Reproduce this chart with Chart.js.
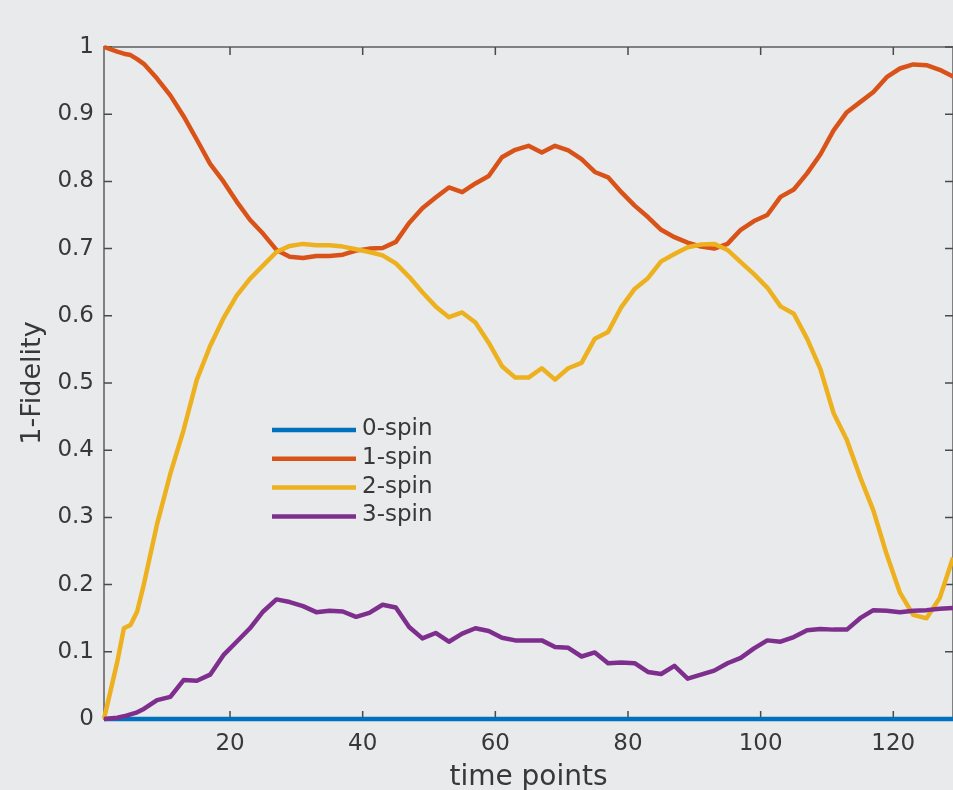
<!DOCTYPE html>
<html>
<head>
<meta charset="utf-8">
<script src="https://cdn.jsdelivr.net/npm/chart.js@4.4.0/dist/chart.umd.min.js"></script>
<style>
  html, body { margin: 0; padding: 0; background: #e9eaec; overflow: hidden; }
  #wrap { width: 953px; height: 790px; }
</style>
</head>
<body>
<div id="wrap"><canvas id="fidelity"></canvas></div>
<script>
// time axis samples
const timePoints = [1, 3, 4, 5, 6, 7, 9, 11, 13, 15, 17, 19, 21, 23, 25, 27, 29, 31, 33, 35, 37, 39,
  41, 43, 45, 47, 49, 51, 53, 55, 57, 59, 61, 63, 65, 67, 69, 71, 73, 75, 77, 79,
  81, 83, 85, 87, 89, 91, 93, 95, 97, 99, 101, 103, 105, 107, 109, 111, 113, 115, 117, 119,
  121, 123, 125, 127, 129];

// 1-Fidelity per spin count
const spin0 = [0, 0, 0, 0, 0, 0, 0, 0, 0, 0, 0, 0, 0, 0, 0, 0, 0, 0, 0, 0,
  0, 0, 0, 0, 0, 0, 0, 0, 0, 0, 0, 0, 0, 0, 0, 0, 0, 0, 0, 0,
  0, 0, 0, 0, 0, 0, 0, 0, 0, 0, 0, 0, 0, 0, 0, 0, 0, 0, 0, 0,
  0, 0, 0, 0, 0, 0, 0];
const spin1 = [1.000, 0.993, 0.990, 0.988, 0.982, 0.975, 0.953, 0.928, 0.897, 0.862, 0.826, 0.800,
  0.770, 0.743, 0.722, 0.698, 0.688, 0.686, 0.689, 0.689, 0.691, 0.697,
  0.700, 0.701, 0.710, 0.738, 0.760, 0.776, 0.791, 0.784, 0.797, 0.808,
  0.836, 0.847, 0.853, 0.843, 0.853, 0.846, 0.833, 0.814, 0.806, 0.784,
  0.764, 0.747, 0.728, 0.717, 0.709, 0.703, 0.700, 0.707, 0.728, 0.741,
  0.750, 0.777, 0.788, 0.812, 0.840, 0.876, 0.903, 0.918, 0.933, 0.955,
  0.968, 0.974, 0.973, 0.966, 0.956];
const spin2 = [0.000, 0.085, 0.135, 0.140, 0.160, 0.200, 0.290, 0.365, 0.430, 0.505, 0.555, 0.596,
  0.630, 0.655, 0.675, 0.695, 0.704, 0.707, 0.705, 0.705, 0.703, 0.699,
  0.695, 0.690, 0.678, 0.658, 0.635, 0.614, 0.598, 0.605, 0.590, 0.560,
  0.525, 0.508, 0.508, 0.522, 0.505, 0.522, 0.530, 0.566, 0.576, 0.613,
  0.640, 0.656, 0.681, 0.692, 0.702, 0.706, 0.707, 0.698, 0.680, 0.662,
  0.642, 0.614, 0.603, 0.566, 0.521, 0.455, 0.415, 0.360, 0.310, 0.245,
  0.188, 0.155, 0.150, 0.180, 0.240];
const spin3 = [0.000, 0.002, 0.004, 0.007, 0.010, 0.015, 0.028, 0.033, 0.058, 0.057, 0.066, 0.095,
  0.115, 0.135, 0.160, 0.178, 0.174, 0.168, 0.159, 0.161, 0.160, 0.152,
  0.158, 0.170, 0.166, 0.137, 0.120, 0.128, 0.115, 0.127, 0.135, 0.131,
  0.121, 0.117, 0.117, 0.117, 0.107, 0.106, 0.093, 0.099, 0.083, 0.084,
  0.083, 0.070, 0.067, 0.079, 0.060, 0.066, 0.072, 0.083, 0.091, 0.105,
  0.117, 0.115, 0.122, 0.132, 0.134, 0.133, 0.133, 0.150, 0.162, 0.161,
  0.159, 0.161, 0.162, 0.164, 0.165];

const seriesNames = ['0-spin', '1-spin', '2-spin', '3-spin'];
const seriesColors = ['#0072bd', '#d95319', '#edb120', '#7e2f8e'];
const xTicks = [20, 40, 60, 80, 100, 120];
const yTicks = [0, 0.1, 0.2, 0.3, 0.4, 0.5, 0.6, 0.7, 0.8, 0.9, 1];

const FONT = "'DejaVu Sans', sans-serif";
const TEXT = '#383838';

const toPoints = vals => timePoints.map((t, i) => ({ x: t, y: vals[i] }));

// box around the axes with inward ticks on all four sides
const axesBox = {
  id: 'axesBox',
  beforeDatasetsDraw(chart) {
    const { ctx, chartArea: a, scales: { x, y } } = chart;
    ctx.save();
    ctx.strokeStyle = '#808080';
    ctx.lineWidth = 2;
    ctx.strokeRect(a.left, a.top, a.right - a.left, a.bottom - a.top);
    ctx.strokeStyle = '#4a4a4a';
    ctx.lineWidth = 1.5;
    ctx.beginPath();
    x.ticks.forEach(t => {
      const px = x.getPixelForValue(t.value);
      ctx.moveTo(px, a.bottom); ctx.lineTo(px, a.bottom - 8);
      ctx.moveTo(px, a.top); ctx.lineTo(px, a.top + 8);
    });
    y.ticks.forEach(t => {
      const py = y.getPixelForValue(t.value);
      ctx.moveTo(a.left, py); ctx.lineTo(a.left + 8, py);
      ctx.moveTo(a.right, py); ctx.lineTo(a.right - 8, py);
    });
    ctx.stroke();
    ctx.restore();
  }
};

// legend without a frame, placed inside the plot
const lineLegend = {
  id: 'lineLegend',
  afterDatasetsDraw(chart) {
    const { ctx } = chart;
    const x0 = 272, x1 = 356, y0 = 430, step = 28.8;
    ctx.save();
    ctx.font = '23px ' + FONT;
    ctx.textBaseline = 'middle';
    ctx.textAlign = 'left';
    chart.data.datasets.forEach((ds, i) => {
      const yy = y0 + i * step;
      ctx.strokeStyle = ds.borderColor;
      ctx.lineWidth = 4.5;
      ctx.beginPath();
      ctx.moveTo(x0, yy);
      ctx.lineTo(x1, yy);
      ctx.stroke();
      ctx.fillStyle = TEXT;
      ctx.fillText(ds.label, x1 + 6, yy - 1);
    });
    ctx.restore();
  }
};

const allSeries = [spin0, spin1, spin2, spin3];

new Chart(document.getElementById('fidelity'), {
  type: 'line',
  data: {
    datasets: allSeries.map((vals, i) => ({
      label: seriesNames[i],
      data: toPoints(vals),
      borderColor: seriesColors[i],
      backgroundColor: seriesColors[i],
      borderWidth: 4.5,
      pointRadius: 0,
      tension: 0,
      borderJoinStyle: 'round',
      clip: 6,
      order: allSeries.length - i
    }))
  },
  plugins: [axesBox, lineLegend],
  options: {
    responsive: true,
    maintainAspectRatio: false,
    animation: false,
    layout: { padding: { top: 47, right: 0, left: 0, bottom: 0 } },
    plugins: {
      legend: { display: false },
      tooltip: { enabled: false }
    },
    scales: {
      x: {
        type: 'linear',
        min: 1,
        max: 129,
        afterBuildTicks: axis => { axis.ticks = xTicks.map(v => ({ value: v })); },
        afterFit: axis => { axis.height = 71; },
        grid: { display: false, drawTicks: false },
        border: { display: false },
        ticks: { color: TEXT, font: { family: FONT, size: 23 }, padding: 11, maxRotation: 0 },
        title: {
          display: true,
          text: 'time points',
          color: TEXT,
          font: { family: FONT, size: 28 },
          padding: { top: 0, bottom: -5 }
        }
      },
      y: {
        min: 0,
        max: 1,
        afterBuildTicks: axis => { axis.ticks = yTicks.map(v => ({ value: v })); },
        afterFit: axis => { axis.width = 104; },
        grid: { display: false, drawTicks: false },
        border: { display: false },
        ticks: {
          color: TEXT,
          font: { family: FONT, size: 23 },
          padding: 10,
          callback: v => String(+v.toFixed(1))
        },
        title: {
          display: true,
          text: '1-Fidelity',
          color: TEXT,
          font: { family: FONT, size: 27 },
          padding: { top: 17, bottom: 0 }
        }
      }
    }
  }
});
</script>
</body>
</html>
